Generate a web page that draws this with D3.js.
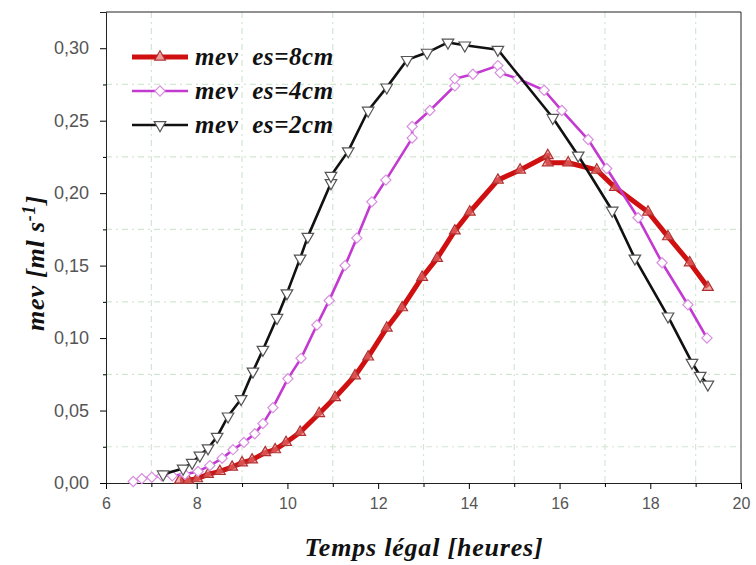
<!DOCTYPE html>
<html>
<head>
<meta charset="utf-8">
<script src="https://cdn.jsdelivr.net/npm/d3@7"></script>
<style>
  body { margin: 0; background: #fff; }
  .tick text { font-family: "Liberation Sans", Arial, sans-serif; fill: #555; }
  .title { font-family: "Liberation Serif", "Times New Roman", serif; font-weight: bold; font-style: italic; fill: #111; }
</style>
</head>
<body>
<div id="graphic"></div>
<script>
// es = 8 cm (red, triangles up)
const hours8 = [7.63, 7.81, 8.01, 8.25, 8.51, 8.78, 9.00, 9.22, 9.51, 9.73, 9.97, 10.28, 10.70, 11.05, 11.49, 11.78,
  12.19, 12.53, 12.97, 13.30, 13.69, 14.02, 14.64, 15.13, 15.74, 15.74, 16.19, 16.82, 17.22, 17.95, 18.39, 18.87, 19.27];
const mev8 = [0.002, 0.002, 0.003, 0.006, 0.008, 0.011, 0.014, 0.016, 0.021, 0.023, 0.028, 0.035, 0.048, 0.059, 0.074, 0.087,
  0.107, 0.121, 0.142, 0.155, 0.174, 0.187, 0.209, 0.216, 0.226, 0.221, 0.221, 0.216, 0.204, 0.187, 0.170, 0.152, 0.135];

// es = 4 cm (magenta, diamonds)
const hours4 = [6.60, 6.79, 7.01, 7.23, 7.46, 7.74, 8.03, 8.29, 8.56, 8.80, 9.04, 9.28, 9.46, 9.68, 10.01, 10.30, 10.65,
  10.92, 11.27, 11.53, 11.86, 12.17, 12.75, 12.75, 13.14, 13.69, 13.69, 14.09, 14.64, 14.69, 15.08, 15.66, 16.05, 16.63,
  17.04, 17.73, 18.26, 18.83, 19.25];
const mev4 = [0.001, 0.003, 0.004, 0.005, 0.005, 0.006, 0.008, 0.012, 0.017, 0.023, 0.028, 0.034, 0.041, 0.052, 0.072, 0.086, 0.109,
  0.126, 0.150, 0.169, 0.194, 0.209, 0.238, 0.246, 0.257, 0.274, 0.279, 0.282, 0.288, 0.283, 0.279, 0.271, 0.257, 0.237,
  0.217, 0.183, 0.152, 0.123, 0.100];

// es = 2 cm (black, triangles down)
const hours2 = [7.26, 7.70, 7.90, 8.07, 8.25, 8.45, 8.69, 8.98, 9.24, 9.46, 9.77, 9.99, 10.28, 10.45, 10.96, 10.96, 11.34,
  11.78, 12.19, 12.64, 13.08, 13.54, 13.91, 14.64, 15.85, 16.41, 17.16, 17.66, 18.39, 18.92, 19.10, 19.27];
const mev2 = [0.006, 0.010, 0.014, 0.019, 0.024, 0.032, 0.046, 0.058, 0.077, 0.092, 0.114, 0.131, 0.155, 0.170, 0.207, 0.212, 0.229,
  0.257, 0.273, 0.292, 0.297, 0.304, 0.302, 0.299, 0.252, 0.226, 0.188, 0.155, 0.115, 0.083, 0.074, 0.068];

const xTicks = [6, 8, 10, 12, 14, 16, 18, 20];
const xMinor = [7, 9, 11, 13, 15, 17, 19];
const yTicks = [0, 0.05, 0.10, 0.15, 0.20, 0.25, 0.30];
const yMinor = [0.025, 0.075, 0.125, 0.175, 0.225, 0.275];
const legendLabels = ['mev  es=8cm', 'mev  es=4cm', 'mev  es=2cm'];

const width = 756;
const height = 565;
const plotLeft = 106, plotRight = 741, plotTop = 12, plotBottom = 483;

const svg = d3.select('#graphic')
  .append('svg')
  .attr('width', width)
  .attr('height', height);

const scaleX = d3.scaleLinear().domain([6, 20]).range([plotLeft, plotRight]);
const scaleY = d3.scaleLinear().domain([0, 0.325]).range([plotBottom, plotTop]);

const fmt = d => d3.format('.2f')(d).replace('.', ',');

// grid at minor positions
svg.append('g').selectAll('line')
  .data(xMinor)
  .enter().append('line')
  .attr('x1', d => scaleX(d)).attr('x2', d => scaleX(d))
  .attr('y1', plotTop).attr('y2', plotBottom)
  .attr('stroke', '#d3e6d3').attr('stroke-width', 1.2)
  .attr('stroke-dasharray', '6,4,2,4');

svg.append('g').selectAll('line')
  .data(yMinor)
  .enter().append('line')
  .attr('x1', plotLeft).attr('x2', plotRight)
  .attr('y1', d => scaleY(d)).attr('y2', d => scaleY(d))
  .attr('stroke', '#d3e6d3').attr('stroke-width', 1.2)
  .attr('stroke-dasharray', '6,4,2,4');

// axes
const axisX = d3.axisBottom(scaleX).tickValues(xTicks).tickFormat(d3.format('d')).tickSize(6).tickPadding(9);
svg.append('g')
  .attr('transform', `translate(0,${plotBottom})`)
  .call(axisX)
  .call(g => g.select('.domain').attr('stroke', '#222'))
  .call(g => g.selectAll('.tick text').attr('font-size', 16));

svg.append('g')
  .attr('transform', `translate(0,${plotBottom})`)
  .call(d3.axisBottom(scaleX).tickValues(xMinor).tickFormat('').tickSize(4))
  .call(g => g.select('.domain').remove());

const axisY = d3.axisLeft(scaleY).tickValues(yTicks).tickFormat(fmt).tickSize(6).tickPadding(11);
svg.append('g')
  .attr('transform', `translate(${plotLeft},0)`)
  .call(axisY)
  .call(g => g.select('.domain').attr('stroke', '#222'))
  .call(g => g.selectAll('.tick text').attr('font-size', 18));

svg.append('g')
  .attr('transform', `translate(${plotLeft},0)`)
  .call(d3.axisLeft(scaleY).tickValues(yMinor).tickFormat('').tickSize(3))
  .call(g => g.select('.domain').remove());

// frame top / right
svg.append('line').attr('x1', plotLeft).attr('x2', plotRight).attr('y1', plotTop).attr('y2', plotTop).attr('stroke', '#222');
svg.append('line').attr('x1', plotRight).attr('x2', plotRight).attr('y1', plotTop).attr('y2', plotBottom).attr('stroke', '#222');

const series = [
  { hours: hours8, mev: mev8, line: '#d01010', lw: 5, shape: d3.symbolTriangle, size: 50, rot: 0, mfill: 'rgba(230,120,120,0.6)', mstroke: '#b03030' },
  { hours: hours4, mev: mev4, line: '#c23ad0', lw: 2.6, shape: d3.symbolSquare, size: 52, rot: 45, mfill: '#fff', mstroke: '#d890e0' },
  { hours: hours2, mev: mev2, line: '#111', lw: 2.6, shape: d3.symbolTriangle, size: 58, rot: 180, mfill: '#fff', mstroke: '#555' }
];

const line = d3.line().x(d => scaleX(d[0])).y(d => scaleY(d[1]));

series.forEach(s => {
  const pts = s.hours.map((h, i) => [h, s.mev[i]]);
  svg.append('path')
    .datum(pts)
    .attr('d', line)
    .attr('fill', 'none')
    .attr('stroke', s.line)
    .attr('stroke-width', s.lw)
    .attr('stroke-linejoin', 'round');

  svg.append('g').selectAll('path')
    .data(pts)
    .enter().append('path')
    .attr('d', d3.symbol().type(s.shape).size(s.size))
    .attr('transform', d => `translate(${scaleX(d[0])},${scaleY(d[1])}) rotate(${s.rot})`)
    .attr('fill', s.mfill)
    .attr('stroke', s.mstroke)
    .attr('stroke-width', 1.2);
});

// legend
const legendY = [57, 91, 125];
series.forEach((s, i) => {
  const g = svg.append('g').attr('transform', `translate(0,${legendY[i]})`);
  g.append('line').attr('x1', 132).attr('x2', 188).attr('y1', 0).attr('y2', 0)
    .attr('stroke', s.line).attr('stroke-width', s.lw);
  g.append('path')
    .attr('d', d3.symbol().type(s.shape).size(s.size))
    .attr('transform', `translate(160,0) rotate(${s.rot})`)
    .attr('fill', i === 0 ? 'rgba(240,170,170,0.9)' : '#fff')
    .attr('stroke', s.mstroke).attr('stroke-width', 1.2);
  g.append('text')
    .attr('class', 'title')
    .attr('x', 195).attr('y', 8)
    .attr('font-size', 25)
    .attr('letter-spacing', 0.6)
    .style('white-space', 'pre')
    .text(legendLabels[i]);
});

// axis titles
svg.append('text')
  .attr('class', 'title')
  .attr('x', 424).attr('y', 556)
  .attr('text-anchor', 'middle')
  .attr('font-size', 26)
  .attr('letter-spacing', 0.8)
  .text('Temps légal [heures]');

const yTitle = svg.append('text')
  .attr('class', 'title')
  .attr('transform', 'translate(44,263) rotate(-90)')
  .attr('text-anchor', 'middle')
  .attr('font-size', 26)
  .attr('letter-spacing', 0.8);
yTitle.append('tspan').text('mev [ml s');
yTitle.append('tspan').attr('dy', -9).attr('font-size', 18).text('-1');
yTitle.append('tspan').attr('dy', 9).text(']');
</script>
</body>
</html>
